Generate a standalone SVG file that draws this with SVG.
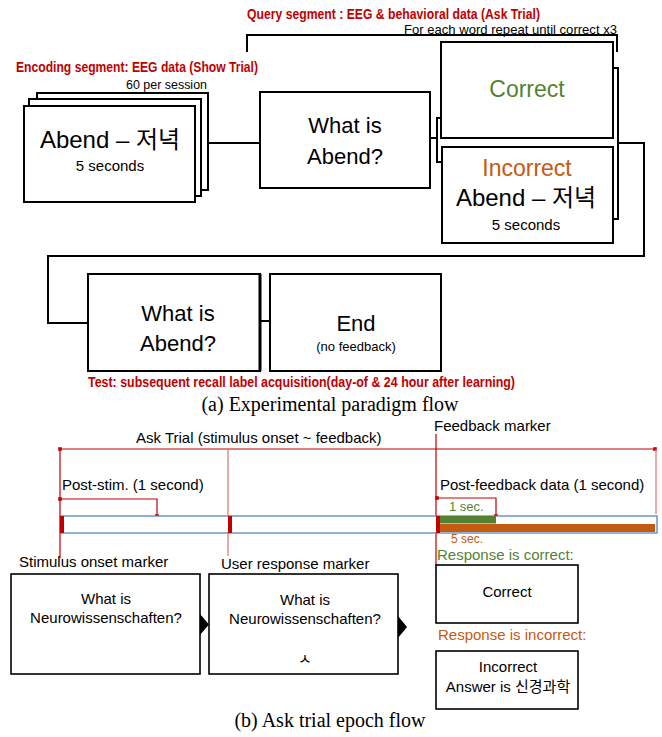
<svg xmlns="http://www.w3.org/2000/svg" width="662" height="737" viewBox="0 0 662 737">
<style>
text{font-family:"Liberation Sans","Noto Sans CJK KR",sans-serif;fill:#000}
.red{fill:#c00000;font-weight:bold;font-size:15px}
.box{fill:#fff;stroke:#000;stroke-width:2}
.sbox{fill:#fff;stroke:#000;stroke-width:1.6}
.conn{fill:none;stroke:#000;stroke-width:2}
.rl{fill:none;stroke:#c00000;stroke-width:1.2}
.rl2{fill:none;stroke:#e07070;stroke-width:1.2}
.cap{font-family:"Liberation Serif",serif;font-size:20px}
.green{fill:#548235}
.orange{fill:#c55a11}
</style>
<defs>
<marker id="dot" viewBox="0 0 4 4" refX="2" refY="2" markerWidth="3" markerHeight="3"><rect width="4" height="4" fill="#c00000"/></marker>
</defs>

<!-- labels part (a) -->
<text class="red" x="247" y="19" font-size="14" textLength="293" lengthAdjust="spacingAndGlyphs">Query segment : EEG &amp; behavioral data (Ask Trial)</text>
<text x="404" y="34" font-size="13" textLength="213" lengthAdjust="spacingAndGlyphs">For each word repeat until correct x3</text>
<text class="red" x="16" y="72" textLength="242" lengthAdjust="spacingAndGlyphs">Encoding segment: EEG data (Show Trial)</text>
<text x="126" y="89" font-size="13" textLength="81" lengthAdjust="spacingAndGlyphs">60 per session</text>

<g id="connectors">
<path class="conn" d="M247,52 V35 H617 V52"/>
<path class="conn" d="M208,143 H260"/>
<path class="conn" d="M430,138 H437 M441,118 H437 V162 H441"/>
<path class="conn" d="M613,68 H618 V219 H613"/>
<path class="conn" d="M618,143 H644 V256 H48 V323 H88"/>
<path class="conn" d="M260,321 H270"/>
<polygon points="200,614 209,624.5 200,635" fill="#000"/>
<polygon points="398,616 407,627 398,638" fill="#000"/>
</g>

<g id="show-trial">
<rect class="box" x="37" y="93" width="171" height="97"/>
<rect class="box" x="29" y="99" width="172" height="97"/>
<rect class="box" x="24" y="106" width="171" height="96"/>
<text x="110" y="148" font-size="24" text-anchor="middle">Abend – 저녁</text>
<text x="110" y="171" font-size="15" text-anchor="middle">5 seconds</text>
</g>

<g id="ask-abend">
<rect class="box" x="260" y="92" width="170" height="96"/>
<text x="345" y="133" font-size="22" text-anchor="middle">What is</text>
<text x="345" y="164" font-size="22" text-anchor="middle">Abend?</text>
</g>

<g id="correct-a">
<rect class="box" x="441" y="42" width="172" height="96"/>
<text x="527" y="97" font-size="23" text-anchor="middle" class="green">Correct</text>
</g>

<g id="incorrect-a">
<rect class="box" x="442" y="147" width="171" height="96"/>
<text x="527" y="176" font-size="23" text-anchor="middle" class="orange">Incorrect</text>
<text x="526" y="206" font-size="24" text-anchor="middle">Abend – 저녁</text>
<text x="526" y="230" font-size="15" text-anchor="middle">5 seconds</text>
</g>

<g id="test-abend">
<rect class="box" x="88" y="274" width="172" height="97"/>
<line x1="260" y1="274" x2="260" y2="371" stroke="#000" stroke-width="3"/>
<text x="178" y="321" font-size="22" text-anchor="middle">What is</text>
<text x="178" y="351" font-size="22" text-anchor="middle">Abend?</text>
</g>

<g id="end">
<rect class="box" x="270" y="274" width="171" height="97"/>
<text x="356" y="331" font-size="22" text-anchor="middle">End</text>
<text x="356" y="351" font-size="13" text-anchor="middle">(no feedback)</text>
</g>

<text class="red" x="88" y="387" textLength="427" lengthAdjust="spacingAndGlyphs">Test: subsequent recall label acquisition(day-of &amp; 24 hour after learning)</text>
<text class="cap" x="330" y="411" text-anchor="middle">(a) Experimental paradigm flow</text>

<!-- part (b) timeline -->
<g id="timeline">
<text x="136" y="443" font-size="15">Ask Trial (stimulus onset ~ feedback)</text>
<text x="434" y="431" font-size="15">Feedback marker</text>
<text x="62" y="490" font-size="15">Post-stim. (1 second)</text>
<text x="440" y="490" font-size="15">Post-feedback data (1 second)</text>
<text x="449" y="511" font-size="13" class="green">1 sec.</text>
<text x="451" y="543" font-size="12" class="orange">5 sec.</text>

<path class="rl" d="M60,449 H655" marker-start="url(#dot)" marker-end="url(#dot)"/>
<path class="rl" d="M60,449 V558"/>
<path class="rl2" d="M228,449 V556"/>
<path class="rl" d="M436,434 V565"/>
<path class="rl2" d="M656,449 V514"/>
<path class="rl" d="M60,499 H157 V516" marker-start="url(#dot)" marker-end="url(#dot)"/>
<path class="rl" d="M437,498 H496 V516" marker-start="url(#dot)" marker-end="url(#dot)"/>

<rect x="60" y="516" width="597" height="17" fill="#fff" stroke="#4a7ebb" stroke-width="1.2"/>
<rect x="440" y="516" width="56" height="7.5" fill="#548235"/>
<rect x="440" y="524" width="215" height="8" fill="#c55a11"/>
<rect x="60" y="516" width="4" height="17" fill="#c00000"/>
<rect x="228" y="516" width="4" height="17" fill="#c00000"/>
<rect x="436" y="516" width="4" height="17" fill="#c00000"/>
</g>

<text x="19" y="567" font-size="15">Stimulus onset marker</text>
<text x="221" y="569" font-size="15">User response marker</text>
<text x="437" y="560" font-size="15" class="green">Response is correct:</text>
<text x="438" y="640" font-size="15" class="orange">Response is incorrect:</text>

<g id="stim-box">
<rect class="sbox" x="11" y="574" width="189" height="100"/>
<text x="106" y="604" font-size="15" text-anchor="middle">What is</text>
<text x="106" y="623" font-size="15" text-anchor="middle">Neurowissenschaften?</text>
</g>

<g id="response-box">
<rect class="sbox" x="209" y="574" width="189" height="100"/>
<text x="305" y="605" font-size="15" text-anchor="middle">What is</text>
<text x="305" y="624" font-size="15" text-anchor="middle">Neurowissenschaften?</text>
<text x="305" y="664" font-size="15" text-anchor="middle">ㅅ</text>
</g>

<g id="correct-b">
<rect class="sbox" x="436" y="565" width="142" height="58"/>
<text x="507" y="597" font-size="15" text-anchor="middle">Correct</text>
</g>

<g id="incorrect-b">
<rect class="sbox" x="436" y="651" width="142" height="58"/>
<text x="508" y="672" font-size="15" text-anchor="middle">Incorrect</text>
<text x="508" y="692" font-size="15" text-anchor="middle">Answer is 신경과학</text>
</g>

<text class="cap" x="330" y="727" text-anchor="middle">(b) Ask trial epoch flow</text>
</svg>
